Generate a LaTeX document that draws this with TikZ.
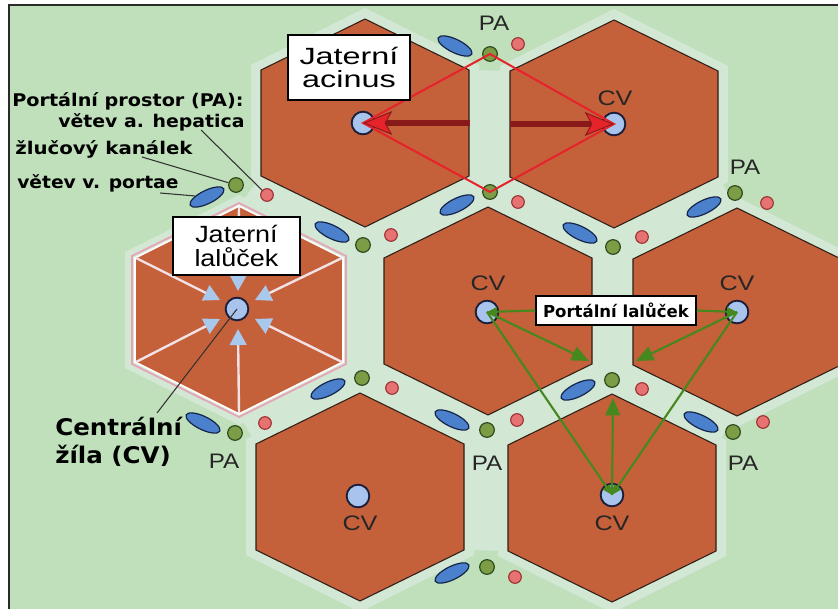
\documentclass[tikz,border=0pt]{standalone}
\usepackage{fontspec}
\setmainfont{Liberation Sans}
\newfontfamily\djv{DejaVu Sans}
\usepackage{graphicx}
\usetikzlibrary{shapes.geometric,arrows.meta}
\definecolor{bgc}{HTML}{C0E0BB}
\definecolor{halo}{HTML}{D3E7D5}
\definecolor{frame}{HTML}{2A2A2A}
\definecolor{hexc}{HTML}{C4603A}
\definecolor{hexl}{HTML}{2E1F18}
\definecolor{cvfill}{HTML}{A8C4EC}
\definecolor{cvline}{HTML}{1B1E3A}
\definecolor{pvfill}{HTML}{4B80CC}
\definecolor{pvline}{HTML}{15254A}
\definecolor{bdfill}{HTML}{7C9C46}
\definecolor{bdline}{HTML}{2C4A1C}
\definecolor{hafill}{HTML}{E77272}
\definecolor{haline}{HTML}{9C2E2E}
\definecolor{acred}{HTML}{E6232A}
\definecolor{acdark}{HTML}{8A1A1A}
\definecolor{gline}{HTML}{47881E}
\definecolor{lobpink}{HTML}{E7A3B6}
\definecolor{lobline}{HTML}{F2E2E6}
\definecolor{lobarrow}{HTML}{A9C9EC}
\definecolor{leader}{HTML}{333333}
\newcommand{\sx}[2]{\scalebox{#1}[1]{#2}}
\tikzset{
  hexstyle/.style={fill=hexc, draw=hexl, line width=0.8pt},
  cv/.style={circle, draw=cvline, fill=cvfill, line width=1.4pt, minimum size=17pt, inner sep=0pt},
  pv/.style={ellipse, draw=pvline, fill=pvfill, line width=0.9pt, minimum width=28pt, minimum height=10pt, inner sep=0pt},
  bd/.style={circle, draw=bdline, fill=bdfill, line width=0.9pt, minimum size=11pt, inner sep=0pt},
  ha/.style={circle, draw=haline, fill=hafill, line width=0.8pt, minimum size=9.5pt, inner sep=0pt},
  acline/.style={draw=acred, line width=1.5pt, line join=miter},
  acshaft/.style={draw=acdark, line width=4.2pt, -{Stealth[length=22pt,width=18pt,inset=5pt,line width=0.7pt,fill=acred,color=acdark]}},
  garr/.style={draw=gline, line width=1.6pt, -{Triangle[length=13pt,width=11pt]}},
  gsm/.style={draw=gline, line width=1.6pt, -{Triangle[length=7.5pt,width=6.5pt]}},
  lobarr/.style={draw=lobline, line width=1.8pt, -{Triangle[length=12pt,width=12.5pt,color=lobarrow]}},
  leader/.style={draw=leader, line width=0.8pt},
  blbl/.style={inner sep=0pt, anchor=base west, font=\djv\bfseries\fontsize{13.1pt}{15pt}\selectfont},
  clbl/.style={inner sep=0pt, anchor=base west, font=\djv\bfseries\fontsize{17.2pt}{20pt}\selectfont},
  cvlbl/.style={inner sep=0pt, anchor=center, text=black!85, font=\fontsize{15.75pt}{18pt}\selectfont},
  palbl/.style={inner sep=0pt, anchor=center, text=black!85, font=\fontsize{15.75pt}{18pt}\selectfont},
  wbox/.style={draw=black, fill=white, line width=1.1pt, inner sep=0pt, align=center}
}
\begin{document}
\begin{tikzpicture}[x=0.75pt,y=-0.75pt]
\useasboundingbox (0,0) rectangle (838,609);
\clip (0,0) rectangle (838,609);
\fill[white] (0,0) rectangle (838,609);
\filldraw[fill=bgc, draw=frame, line width=1.1pt] (9,5) rectangle (850,620);
% pale halo around lobules
\foreach \cx/\cy in {365/123, 614/124, 488/311, 737/312, 360/497, 612/498, 239/310} {
  \fill[halo] (\cx,\cy-115) -- (\cx+114,\cy-58) -- (\cx+114,\cy+58) -- (\cx,\cy+115) -- (\cx-114,\cy+58) -- (\cx-114,\cy-58) -- cycle;
}
% pale gaps between neighbouring lobules
\foreach \ax/\ay/\bx/\by in {365/123/614/124, 239/310/488/311, 488/311/737/312, 360/497/612/498} {
  \fill[halo] (\ax+100,\ay-53) -- (\bx-100,\by-53) -- (\bx-100,\by+53) -- (\ax+100,\ay+53) -- cycle;
}
\foreach \ax/\ay/\bx/\by in {365/123/488/311, 614/124/737/312, 239/310/360/497, 488/311/612/498} {
  \fill[halo] (\ax+104,\ay+53) -- (\ax,\ay+104) -- (\bx-104,\by-53) -- (\bx,\by-104) -- cycle;
}
\foreach \ax/\ay/\bx/\by in {365/123/239/310, 614/124/488/311, 488/311/360/497, 737/312/612/498} {
  \fill[halo] (\ax-104,\ay+53) -- (\ax,\ay+104) -- (\bx+104,\by-53) -- (\bx,\by-104) -- cycle;
}
\foreach \ax/\ay/\bx/\by/\cx/\cy in {365/123/614/124/488/311, 365/123/488/311/239/310, 614/124/488/311/737/312, 239/310/488/311/360/497, 488/311/360/497/612/498, 488/311/737/312/612/498} {
  \fill[halo] (\ax,\ay) -- (\bx,\by) -- (\cx,\cy) -- cycle;
}
% hexagonal lobules
\foreach \cx/\cy in {365/123, 614/124, 488/311, 737/312, 360/497, 612/498} {
  \path[hexstyle] (\cx,\cy-104) -- (\cx+104,\cy-53) -- (\cx+104,\cy+53) -- (\cx,\cy+104) -- (\cx-104,\cy+53) -- (\cx-104,\cy-53) -- cycle;
}
% classic lobule (left)
\path[draw=lobpink, line width=1.3pt] (239,203) -- (346,256) -- (346,364) -- (239,417) -- (132,364) -- (132,256) -- cycle;
\path[fill=hexc, draw=white, line width=1.3pt] (239,206) -- (343,258) -- (343,362) -- (239,414) -- (135,362) -- (135,258) -- cycle;
% portal triads
\foreach \i/\bx/\by/\px/\py/\r/\hx/\hy in {
  1/490/54/455/46/-26/518/44,
  2/490/192/457/205/26/518/202,
  3/236/185/207/197/26/267/195,
  4/363/245/332/232/-26/391/235,
  5/735/193/704/207/26/767/203,
  6/613/247/580/233/-26/642/237,
  7/612/380/578/390/26/642/389,
  8/362/378/328/389/26/392/388,
  9/487/430/452/420/-26/517/420,
  10/733/432/701/422/-26/763/422,
  11/235/433/203/423/-26/265/423,
  12/487/567/452/573/26/515/577} {
  \node[pv, rotate=\r] (pv\i) at (\px,\py) {};
  \node[bd] (bd\i) at (\bx,\by) {};
  \node[ha] (ha\i) at (\hx,\hy) {};
}
% lobule flow arrows
\coordinate (lv1) at (239,207); \coordinate (lt1) at (238,291);
\coordinate (lv2) at (342,258); \coordinate (lt2) at (255,300);
\coordinate (lv3) at (342,362); \coordinate (lt3) at (255,319);
\coordinate (lv4) at (239,413); \coordinate (lt4) at (238,329);
\coordinate (lv5) at (136,362); \coordinate (lt5) at (220,319);
\coordinate (lv6) at (136,258); \coordinate (lt6) at (220,300);
\foreach \k in {1,...,6} { \draw[lobarr] (lv\k) -- (lt\k); }
% central veins
\node[cv] (cv1) at (363,123) {};
\node[cv] (cv2) at (614,124) {};
\node[cv] (cv3) at (487,312) {};
\node[cv] (cv4) at (737,312) {};
\node[cv] (cv5) at (358,496) {};
\node[cv] (cv6) at (612,495) {};
\node[cv] (cv7) at (237,309) {};
% acinus
\draw[acline] (cv1.center) -- (bd1.center) -- (cv2.center) -- (bd2.center) -- cycle;
\coordinate (acL) at (470,123);
\coordinate (acR) at (510,124);
\draw[acshaft] (acL) -- (cv1.center);
\draw[acshaft] (acR) -- (cv2.center);
% portal lobule
\coordinate (p7a) at (589,361);
\coordinate (p7b) at (636,361);
\coordinate (p7c) at (613,398);
\draw[garr] (cv3.center) -- (p7a);
\draw[garr] (cv4.center) -- (p7b);
\draw[garr] (cv6.center) -- (p7c);
\draw[gsm] (cv3.center) -- (cv6.center);
\draw[gsm] (cv4.center) -- (cv6.center);
\node[wbox, minimum width=120pt, minimum height=21.75pt, font=\djv\bfseries\fontsize{12.4pt}{14pt}\selectfont] (pl) at (616,310.5) {Portální lalůček};
\draw[gsm] (pl.west) -- (cv3.center);
\draw[gsm] (pl.east) -- (cv4.center);
% boxes
\node[wbox, minimum width=91.5pt, minimum height=48.75pt, font=\fontsize{17.6pt}{17.6pt}\selectfont] (acbox) at (349,67.5) {\sx{1.38}{Jaterní}\\\sx{1.38}{acinus}};
\node[wbox, minimum width=95.25pt, minimum height=43.5pt, font=\fontsize{17.6pt}{17.6pt}\selectfont] (lobox) at (236.5,246) {\sx{1.15}{Jaterní}\\\sx{1.15}{lalůček}};
% CV labels
\node[cvlbl] (cvl2) at (615,98) {\sx{1.2}{CV}};
\node[cvlbl] (cvl3) at (488,283) {\sx{1.2}{CV}};
\node[cvlbl] (cvl4) at (737,283) {\sx{1.2}{CV}};
\node[cvlbl] (cvl5) at (360,523) {\sx{1.2}{CV}};
\node[cvlbl] (cvl6) at (612,523) {\sx{1.2}{CV}};
% PA labels
\node[palbl] (pa1) at (494,23) {\sx{1.15}{PA}};
\node[palbl] (pa2) at (745,167) {\sx{1.15}{PA}};
\node[palbl] (pa3) at (224,461) {\sx{1.15}{PA}};
\node[palbl] (pa4) at (487,463) {\sx{1.15}{PA}};
\node[palbl] (pa5) at (743,463) {\sx{1.15}{PA}};
% left legend
\node[blbl] (t1) at (12,107) {\sx{1.1}{Portální prostor (PA):}};
\node[blbl] (t2) at (58,128) {\sx{1.08}{větev a. hepatica}};
\node[blbl] (t3) at (15,155) {\sx{1.13}{žlučový kanálek}};
\node[blbl] (t4) at (17,189) {\sx{1.07}{větev v. portae}};
\node[clbl] (t5) at (55,435) {\sx{1.07}{Centrální}};
\node[clbl] (t6) at (55,463) {\sx{1.07}{žíla (CV)}};
% leader lines
\coordinate (ld1) at (201,130);
\coordinate (ld2) at (142,157);
\coordinate (ld3) at (160,193);
\coordinate (ld4) at (157,413);
\draw[leader] (ld1) -- (ha3);
\draw[leader] (ld2) -- (bd3);
\draw[leader] (ld3) -- (pv3);
\draw[leader] (ld4) -- (cv7.center);
\end{tikzpicture}
\end{document}
